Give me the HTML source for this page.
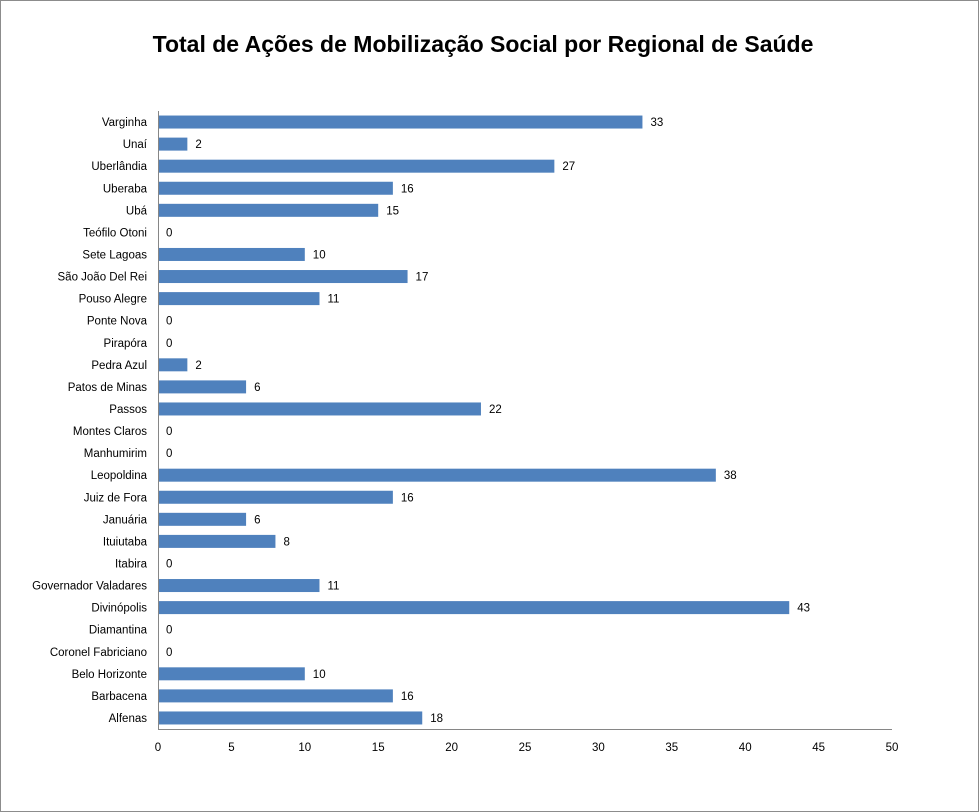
<!DOCTYPE html>
<html><head><meta charset="utf-8"><style>
html,body{margin:0;padding:0;background:#fff;}
#wrap{position:relative;width:979px;height:812px;box-sizing:border-box;border:1px solid #8c8c8c;background:#fff;font-family:"Liberation Sans",sans-serif;}
#title{position:absolute;left:0;top:30px;width:964px;text-align:center;font-size:23px;font-weight:bold;color:#000;}
svg text{font-family:"Liberation Sans",sans-serif;font-size:11.5px;fill:#000;}
</style></head><body>
<div id="wrap">
<div id="title">Total de Ações de Mobilização Social por Regional de Saúde</div>
<svg id="chart" width="979" height="812" style="position:absolute;left:-1px;top:-1px"></svg>
</div>
<script>
const categories = ["Varginha","Unaí","Uberlândia","Uberaba","Ubá","Teófilo Otoni","Sete Lagoas","São João Del Rei","Pouso Alegre","Ponte Nova","Pirapóra","Pedra Azul","Patos de Minas","Passos","Montes Claros","Manhumirim","Leopoldina","Juiz de Fora","Januária","Ituiutaba","Itabira","Governador Valadares","Divinópolis","Diamantina","Coronel Fabriciano","Belo Horizonte","Barbacena","Alfenas"];
const values = [33,2,27,16,15,0,10,17,11,0,0,2,6,22,0,0,38,16,6,8,0,11,43,0,0,10,16,18];
const ticks = [0,5,10,15,20,25,30,35,40,45,50];

const svg = document.getElementById('chart');
const NS = 'http://www.w3.org/2000/svg';
const x0 = 158, x1 = 892, yTop = 111, yBot = 729;
const xMax = ticks[ticks.length-1];
const xScale = v => x0 + v/xMax*(x1-x0);
const band = (yBot-yTop)/categories.length;
const yCenter = i => yTop + band*(i+0.5);
function mk(tag, attrs){const e=document.createElementNS(NS,tag);for(const k in attrs)e.setAttribute(k,attrs[k]);svg.appendChild(e);return e;}

categories.forEach((c,i)=>{
  const yc = yCenter(i);
  const r = mk('rect',{x:xScale(0),y:yc-6.5,width:Math.max(0,xScale(values[i])-xScale(0)),height:13,fill:'#4f81bd'});
  
  
  const l = mk('text',{x:x0-11,y:yc+4,'text-anchor':'end'});
  l.textContent = c;
  
  
  const v = mk('text',{x:xScale(values[i])+8,y:yc+4});
  v.textContent = values[i];
  
  
});
const ax = mk('line',{x1:x0+0.5,y1:yTop,x2:x0+0.5,y2:yBot+0.5,stroke:'#868686','stroke-width':1});


const bx = mk('line',{x1:x0,y1:yBot+0.5,x2:x1,y2:yBot+0.5,stroke:'#868686','stroke-width':1});


ticks.forEach(t=>{
  const tl = mk('text',{x:xScale(t),y:751,'text-anchor':'middle'});
  tl.textContent = t;
  
  
});
</script>
</body></html>
